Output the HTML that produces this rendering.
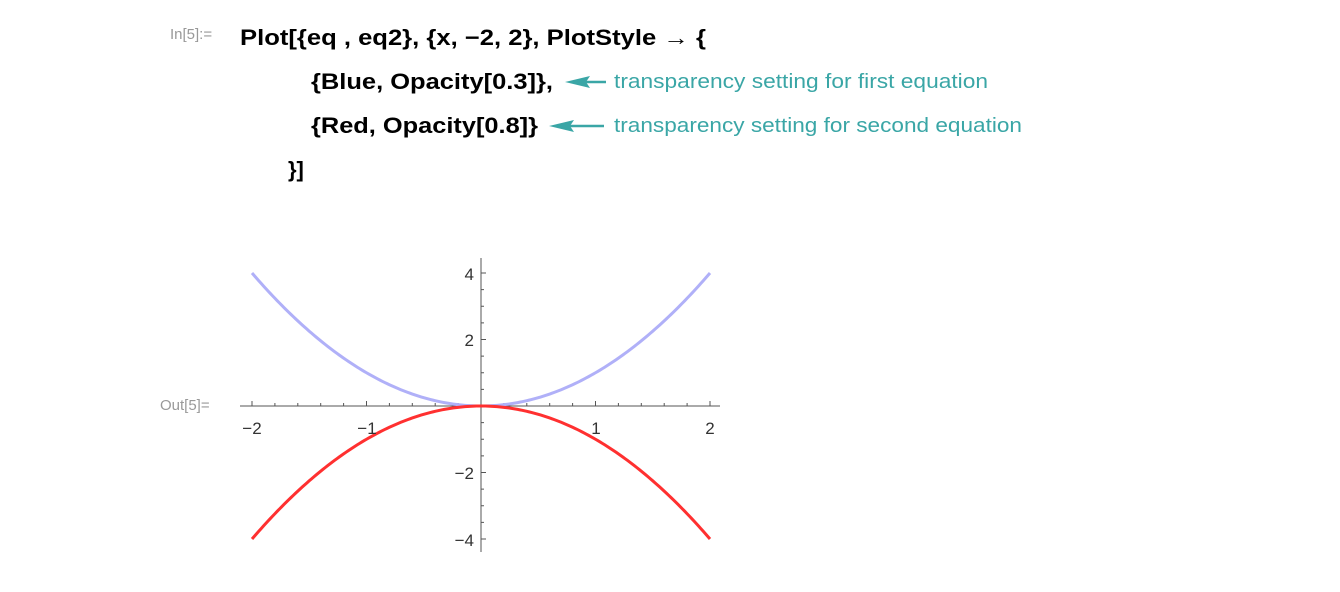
<!DOCTYPE html>
<html><head><meta charset="utf-8"><style>
html,body{margin:0;padding:0;background:#fff;}
svg{display:block}
.code{font-family:"Liberation Sans",sans-serif;font-weight:bold;font-size:22px;fill:#000}
.lbl{font-family:"Liberation Sans",sans-serif;font-size:15px;fill:#999}
.note{font-family:"Liberation Sans",sans-serif;font-size:20px;fill:#3aa6a6}
.tick{font-family:"Liberation Sans",sans-serif;font-size:17px;fill:#333}
</style></head><body>
<svg width="1340" height="592" viewBox="0 0 1340 592" xmlns="http://www.w3.org/2000/svg">
<text x="170" y="39" class="lbl">In[5]:=</text>
<text x="240" y="45" class="code" textLength="466" lengthAdjust="spacingAndGlyphs">Plot[{eq , eq2}, {x, −2, 2}, PlotStyle → {</text>
<text x="311" y="89" class="code" textLength="242" lengthAdjust="spacingAndGlyphs">{Blue, Opacity[0.3]},</text>
<text x="311" y="133" class="code" textLength="227" lengthAdjust="spacingAndGlyphs">{Red, Opacity[0.8]}</text>
<text x="288" y="177" class="code">}]</text>
<g fill="#3aa6a6" stroke="#3aa6a6">
<line x1="585" y1="82" x2="606" y2="82" stroke-width="2.5"/>
<polygon points="565,82 590,76 586,82 590,88" stroke="none"/>
<line x1="568" y1="126" x2="604" y2="126" stroke-width="2.5"/>
<polygon points="549,126 574,120 570,126 574,132" stroke="none"/>
</g>
<text x="614" y="88" class="note" textLength="374" lengthAdjust="spacingAndGlyphs">transparency setting for first equation</text>
<text x="614" y="132" class="note" textLength="408" lengthAdjust="spacingAndGlyphs">transparency setting for second equation</text>
<text x="160" y="410" class="lbl">Out[5]=</text>
<g stroke="#555" stroke-width="1">
<line x1="240" y1="406" x2="720" y2="406"/>
<line x1="481" y1="258" x2="481" y2="552"/>
</g>
<g id="ticks" stroke="#555" stroke-width="1"></g>
<path id="blue" fill="none" stroke="#b0b0f8" stroke-width="3"/>
<path id="red" fill="none" stroke="#ff3030" stroke-width="3"/>
<text x="252" y="434" class="tick" text-anchor="middle">−2</text>
<text x="367" y="434" class="tick" text-anchor="middle">−1</text>
<text x="596" y="434" class="tick" text-anchor="middle">1</text>
<text x="710" y="434" class="tick" text-anchor="middle">2</text>
<text x="474" y="280" class="tick" text-anchor="end">4</text>
<text x="474" y="346" class="tick" text-anchor="end">2</text>
<text x="474" y="479" class="tick" text-anchor="end">−2</text>
<text x="474" y="546" class="tick" text-anchor="end">−4</text>
</svg>
<script>
var ox=481,oy=406,sx=114.5,sy=33.25;
var b="",r="";
for(var i=0;i<=200;i++){var x=-2+i*0.02;var px=ox+x*sx;var y=x*x;
b+=(i?"L":"M")+px.toFixed(2)+","+(oy-y*sy).toFixed(2);
r+=(i?"L":"M")+px.toFixed(2)+","+(oy+y*sy).toFixed(2);}
document.getElementById("blue").setAttribute("d",b);
document.getElementById("red").setAttribute("d",r);
var t="";
for(var k=-10;k<=10;k++){var px=ox+k*0.2*sx;var L=(k%5==0)?5:3;
t+='<line x1="'+px+'" y1="'+(oy-L)+'" x2="'+px+'" y2="'+oy+'"/>';}
for(var k=-8;k<=8;k++){if(k==0)continue;var py=oy-k*0.5*sy;var L=(k%4==0)?5:3;
t+='<line x1="'+ox+'" y1="'+py+'" x2="'+(ox+L)+'" y2="'+py+'"/>';}
document.getElementById("ticks").innerHTML=t;
</script>
</body></html>
